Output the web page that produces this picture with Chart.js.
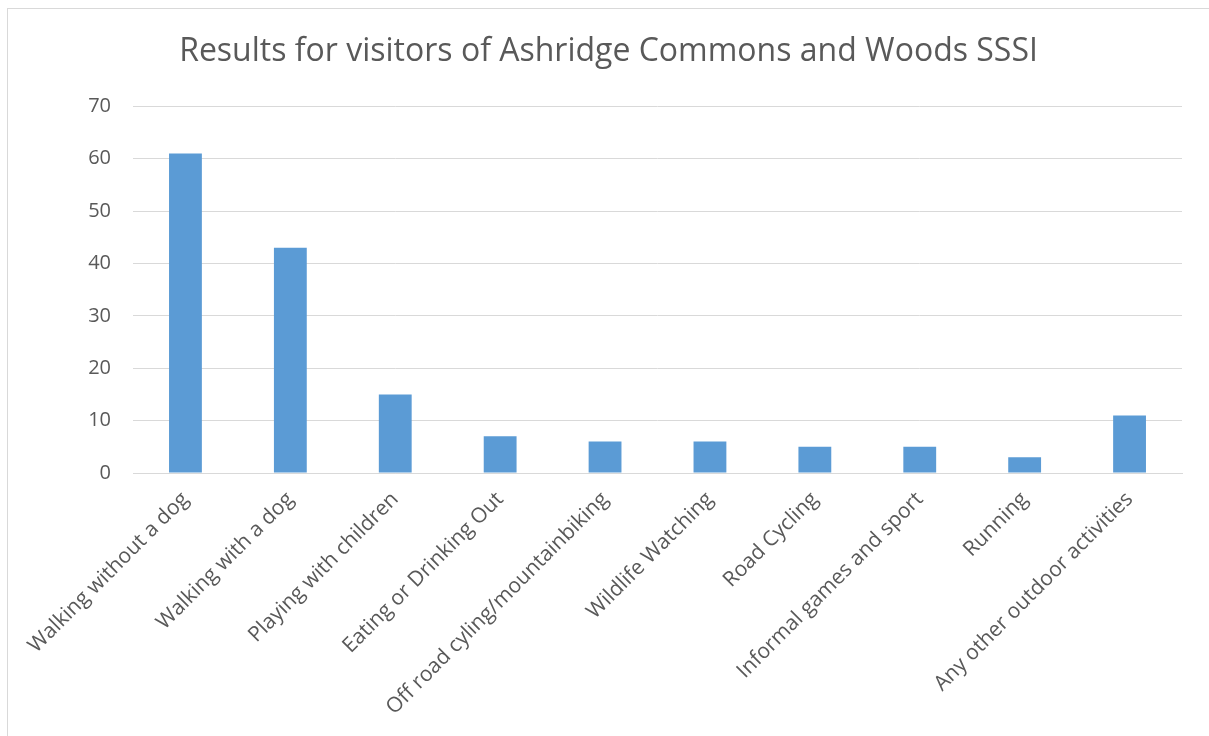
<!DOCTYPE html>
<html>
<head>
<meta charset="utf-8">
<script src="https://cdn.jsdelivr.net/npm/chart.js@4/dist/chart.umd.min.js"></script>
<style>
  html, body { margin: 0; padding: 0; background: #fff; }
  #wrap { position: relative; width: 1209px; height: 736px; overflow: hidden; }
  #frame { position: absolute; left: 7px; top: 8px; width: 1220px; height: 760px; border: 1px solid #d9d9d9; box-sizing: border-box; }
  canvas { position: absolute; left: 0; top: 0; }
</style>
</head>
<body>
<div id="wrap">
  <div id="frame"></div>
  <canvas id="c" width="1209" height="736"></canvas>
</div>
<script>
const titleText = "Results for visitors of Ashridge Commons and Woods SSSI";
const categories = [
  "Walking without a dog",
  "Walking with a dog",
  "Playing with children",
  "Eating or Drinking Out",
  "Off road cyling/mountainbiking",
  "Wildlife Watching",
  "Road Cycling",
  "Informal games and sport",
  "Running",
  "Any other outdoor activities"
];
const visitors = [61, 43, 15, 7, 6, 6, 5, 5, 3, 11];
const yMin = 0, yMax = 70, yStep = 10;

const FONT = "'Open Sans', 'Liberation Sans', sans-serif";
const TXT = "#595959";

new Chart(document.getElementById("c"), {
  type: "bar",
  data: {
    labels: categories,
    datasets: [{
      data: visitors,
      backgroundColor: "#5B9BD5",
      borderWidth: 0,
      categoryPercentage: 1.0,
      barPercentage: 0.313
    }]
  },
  options: {
    responsive: false,
    animation: false,
    layout: { padding: { left: 35, right: 27, top: 0, bottom: 0 } },
    plugins: {
      legend: { display: false },
      tooltip: { enabled: false },
      title: {
        display: true,
        text: titleText,
        color: TXT,
        font: { family: FONT, size: 32, weight: "normal" },
        padding: { top: 33, bottom: 35 }
      }
    },
    scales: {
      x: {
        grid: { display: false, drawTicks: false },
        border: { display: true, color: "#d9d9d9", width: 1 },
        ticks: {
          color: TXT,
          font: { family: FONT, size: 21 },
          minRotation: 45,
          maxRotation: 45,
          autoSkip: false,
          padding: 14
        },
        afterFit(scale) { scale.height = 263; }
      },
      y: {
        min: yMin,
        max: yMax,
        grid: { color: "#d9d9d9", lineWidth: 1, drawTicks: false },
        border: { display: false },
        ticks: {
          stepSize: yStep,
          color: TXT,
          font: { family: FONT, size: 20 },
          padding: 22
        },
        afterFit(scale) { scale.width = 98; }
      }
    }
  }
});
</script>
</body>
</html>
